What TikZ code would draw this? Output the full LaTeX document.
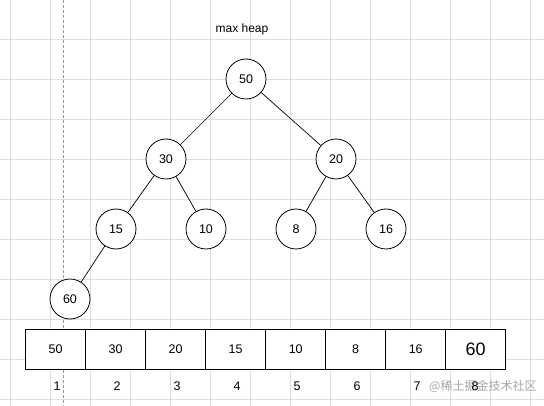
\documentclass[tikz,border=0pt]{standalone}
\usepackage{fontspec}
\setmainfont{Liberation Sans}
\newfontfamily\cjk{Noto Sans CJK SC}
\begin{document}
\begin{tikzpicture}[x=1pt,y=-1pt,
  gridline/.style={draw=black!13,line width=0.6pt},
  heapnode/.style={circle,draw=black,fill=white,line width=0.8pt,minimum size=40pt,inner sep=0pt,font=\fontsize{12.5}{14}\selectfont},
  cellbox/.style={rectangle,draw=black,fill=white,line width=0.8pt,minimum width=60pt,minimum height=40pt,inner sep=0pt,font=\fontsize{12.5}{14}\selectfont},
  idx/.style={font=\fontsize{12.5}{14}\selectfont,inner sep=0pt},
  edge/.style={draw=black,line width=0.7pt}]
\useasboundingbox (0,0) rectangle (544,406);
\fill[white] (0,0) rectangle (544,406);
% grid
\foreach \gx in {10,50,...,530} \draw[gridline] (\gx,0) -- (\gx,406);
\foreach \gy in {39,79,...,399} \draw[gridline] (0,\gy) -- (544,\gy);
% dashed guide
\coordinate (dtop) at (63,0);
\coordinate (dbot) at (63,406);
\draw[black!40,dash pattern=on 3pt off 2pt,line width=0.6pt] (dtop) -- (dbot);
% title
\node[font=\fontsize{12}{14}\selectfont] (title) at (242,29) {max heap};
% heap nodes
\node[heapnode] (n50) at (246,79) {50};
\node[heapnode] (n30) at (166,159) {30};
\node[heapnode] (n20) at (336,159) {20};
\node[heapnode] (n15) at (116,229) {15};
\node[heapnode] (n10) at (206,229) {10};
\node[heapnode] (n8) at (296,229) {8};
\node[heapnode] (n16) at (386,229) {16};
\node[heapnode] (n60) at (70,299) {60};
\draw[edge] (n50) -- (n30);
\draw[edge] (n50) -- (n20);
\draw[edge] (n30) -- (n15);
\draw[edge] (n30) -- (n10);
\draw[edge] (n20) -- (n8);
\draw[edge] (n20) -- (n16);
\draw[edge] (n15) -- (n60);
% array
\node[cellbox] (c1) at (55.7,349.5) {50};
\node[cellbox] (c2) at (115.7,349.5) {30};
\node[cellbox] (c3) at (175.7,349.5) {20};
\node[cellbox] (c4) at (235.7,349.5) {15};
\node[cellbox] (c5) at (295.7,349.5) {10};
\node[cellbox] (c6) at (355.7,349.5) {8};
\node[cellbox] (c7) at (415.7,349.5) {16};
\node[cellbox,font=\fontsize{18}{20}\selectfont] (c8) at (475.7,349.5) {60};
% indices
\node[idx] (i1) at (57,386) {1};
\node[idx] (i2) at (117,386) {2};
\node[idx] (i3) at (177,386) {3};
\node[idx] (i4) at (237,386) {4};
\node[idx] (i5) at (297,386) {5};
\node[idx] (i6) at (357,386) {6};
\node[idx] (i7) at (417,386) {7};
% watermark
\node[font=\cjk\fontsize{12}{14}\selectfont,text=black!35,anchor=west,inner sep=0pt] (wm) at (429,386) {@稀土掘金技术社区};
\node[idx] (i8) at (475,386) {8};
\end{tikzpicture}
\end{document}
